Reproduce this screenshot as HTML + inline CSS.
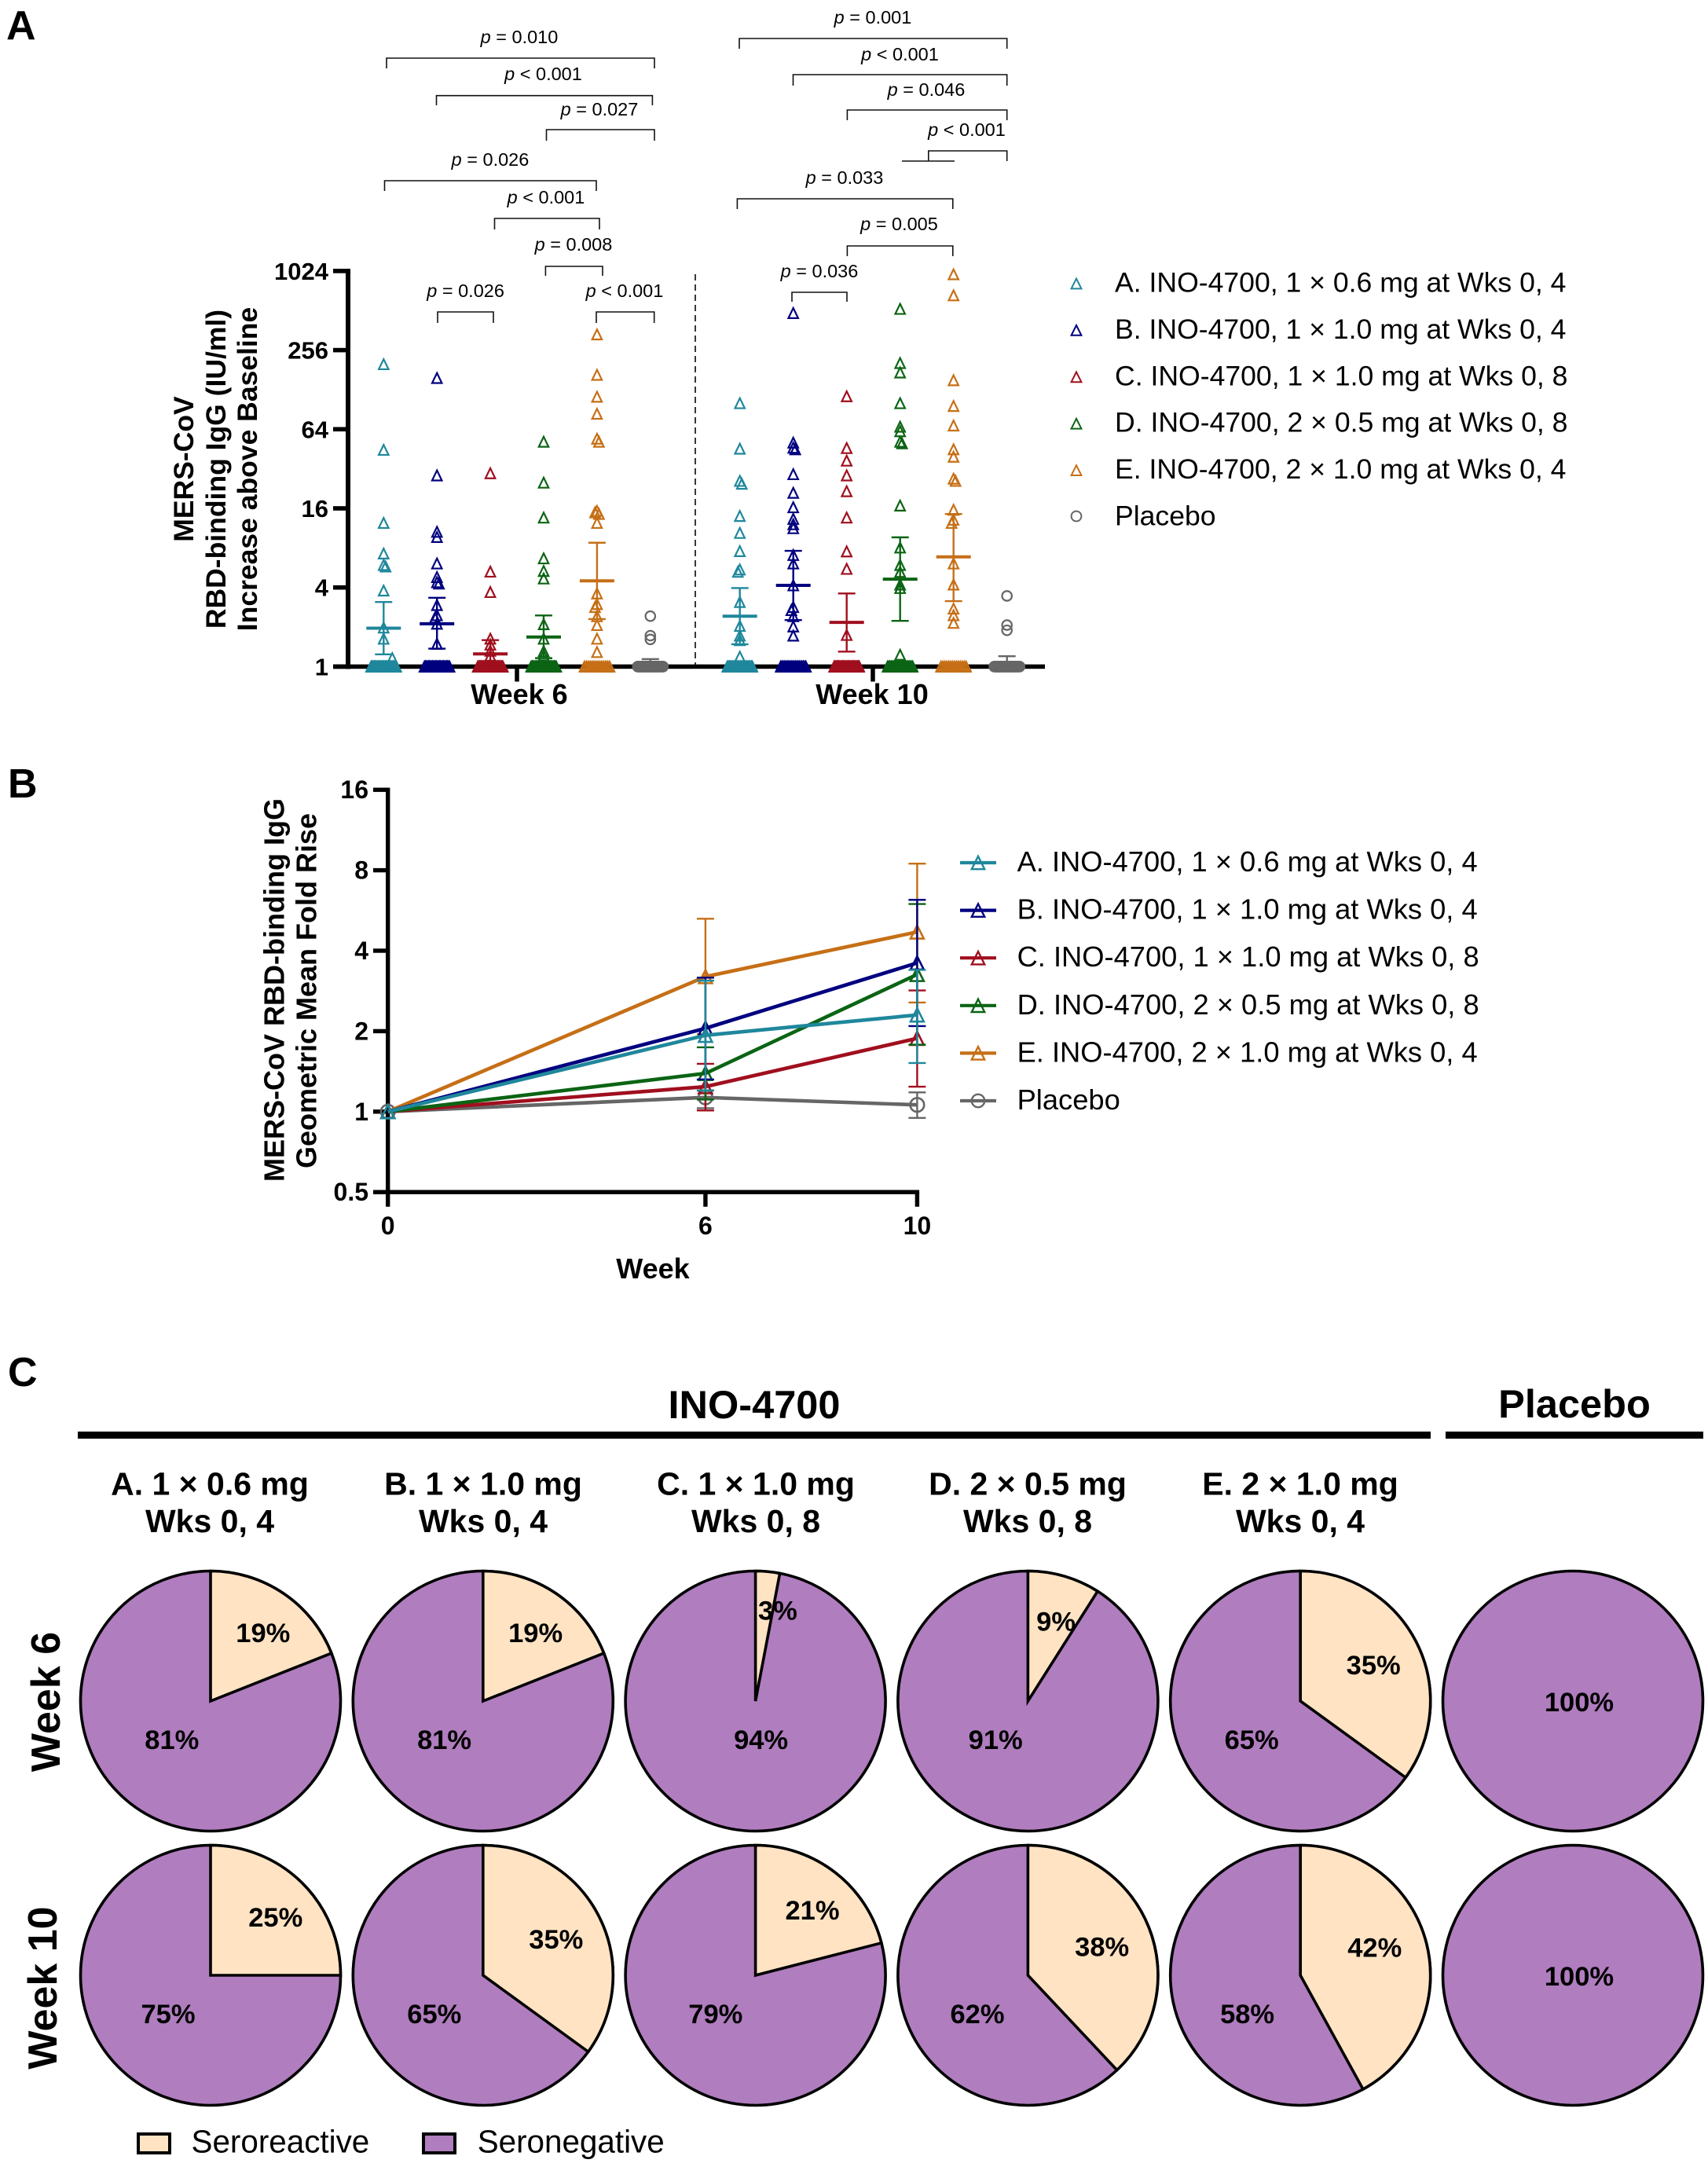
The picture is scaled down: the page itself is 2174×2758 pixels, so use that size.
<!DOCTYPE html>
<html lang="en">
<head>
<meta charset="utf-8">
<title>MERS-CoV RBD-binding IgG figure</title>
<style>
html,body{margin:0;padding:0;background:#fff}
svg{display:block}
text{font-family:"Liberation Sans",Arial,sans-serif;fill:#000}
.pv{font-size:23.5px;text-anchor:middle}
.pb path{fill:none;stroke:#111;stroke-width:1.6}
.b{font-weight:700}
.m{text-anchor:middle}
</style>
</head>
<body>
<svg id="fig" xmlns="http://www.w3.org/2000/svg" width="2174" height="2758" viewBox="0 0 2174 2758">
<rect width="2174" height="2758" fill="#fff"/>

<text class="b" x="8" y="50" font-size="52">A</text>
<text class="b" x="10" y="1015" font-size="52">B</text>
<text class="b" x="10" y="1764" font-size="52">C</text>

<!-- Panel A titles -->
<g>
<text class="b m" font-size="35.5" transform="translate(246 597) rotate(-90)">MERS-CoV</text>
<text class="b m" font-size="35.5" transform="translate(287 597) rotate(-90)">RBD-binding IgG (IU/ml)</text>
<text class="b m" font-size="35.5" transform="translate(327 597) rotate(-90)">Increase above Baseline</text>
</g>
<text class="b m" x="661" y="896" font-size="36">Week 6</text>
<text class="b m" x="1110" y="896" font-size="36">Week 10</text>
<path d="M885 349V848" stroke="#222" stroke-width="1.8" stroke-dasharray="8 5" fill="none"/>

<!-- Panel A p-value brackets -->
<g class="pb">
<g><path d="M492 87V74H833V87"/><text class="pv" x="661" y="55"><tspan font-style="italic">p</tspan> = 0.010</text></g>
<g><path d="M555.5 134V121.7H830.4V134"/><text class="pv" x="691.5" y="102"><tspan font-style="italic">p</tspan> &lt; 0.001</text></g>
<g><path d="M695.5 179V165H833V179"/><text class="pv" x="763" y="147"><tspan font-style="italic">p</tspan> = 0.027</text></g>
<g><path d="M489.5 243V230H759V243"/><text class="pv" x="624" y="211"><tspan font-style="italic">p</tspan> = 0.026</text></g>
<g><path d="M629.5 292V278H763V292"/><text class="pv" x="695" y="259"><tspan font-style="italic">p</tspan> &lt; 0.001</text></g>
<g><path d="M694.4 351V339H767V351"/><text class="pv" x="730" y="319"><tspan font-style="italic">p</tspan> = 0.008</text></g>
<g><path d="M557 411V397H628V411"/><text class="pv" x="592.6" y="378"><tspan font-style="italic">p</tspan> = 0.026</text></g>
<g><path d="M759 411V397H832.7V411"/><text class="pv" x="795" y="378"><tspan font-style="italic">p</tspan> &lt; 0.001</text></g>
<g><path d="M941 62V49H1281.7V62"/><text class="pv" x="1111" y="30"><tspan font-style="italic">p</tspan> = 0.001</text></g>
<g><path d="M1009.5 109V95H1281.7V109"/><text class="pv" x="1145.5" y="77"><tspan font-style="italic">p</tspan> &lt; 0.001</text></g>
<g><path d="M1078.4 153V140H1281.7V153"/><text class="pv" x="1179" y="122"><tspan font-style="italic">p</tspan> = 0.046</text></g>
<g><path d="M1181.8 205V192H1281.7V205M1148 205H1215"/><text class="pv" x="1230.5" y="173"><tspan font-style="italic">p</tspan> &lt; 0.001</text></g>
<g><path d="M938.4 266V253H1212.8V266"/><text class="pv" x="1075" y="234"><tspan font-style="italic">p</tspan> = 0.033</text></g>
<g><path d="M1078.4 326V313H1212.8V326"/><text class="pv" x="1144.5" y="293"><tspan font-style="italic">p</tspan> = 0.005</text></g>
<g><path d="M1008 384V372H1078V384"/><text class="pv" x="1043" y="353"><tspan font-style="italic">p</tspan> = 0.036</text></g>
</g>

<!-- Panel B titles -->
<text class="b m" font-size="36" transform="translate(361.6 1260) rotate(-90)">MERS-CoV RBD-binding IgG</text>
<text class="b m" font-size="36" transform="translate(402.7 1261) rotate(-90)">Geometric Mean Fold Rise</text>
<text class="b m" x="831" y="1627" font-size="36">Week</text>

<!-- Panel C headers -->
<text class="b m" x="960" y="1805" font-size="50.5">INO-4700</text>
<text class="b m" x="2004" y="1804" font-size="50.5">Placebo</text>
<rect x="99" y="1822" width="1722" height="9" fill="#000"/>
<rect x="1840" y="1822" width="328" height="9" fill="#000"/>
<g>
<text class="b m" font-size="41" x="267" y="1902.5">A. 1 × 0.6 mg</text>
<text class="b m" font-size="41" x="267" y="1950">Wks 0, 4</text>
<text class="b m" font-size="41" x="615" y="1902.5">B. 1 × 1.0 mg</text>
<text class="b m" font-size="41" x="615" y="1950">Wks 0, 4</text>
<text class="b m" font-size="41" x="962" y="1902.5">C. 1 × 1.0 mg</text>
<text class="b m" font-size="41" x="962" y="1950">Wks 0, 8</text>
<text class="b m" font-size="41" x="1308" y="1902.5">D. 2 × 0.5 mg</text>
<text class="b m" font-size="41" x="1308" y="1950">Wks 0, 8</text>
<text class="b m" font-size="41" x="1655" y="1902.5">E. 2 × 1.0 mg</text>
<text class="b m" font-size="41" x="1655" y="1950">Wks 0, 4</text>
</g>
<text class="b m" font-size="52" transform="translate(76 2166) rotate(-90)">Week 6</text>
<text class="b m" font-size="52" transform="translate(72 2530) rotate(-90)">Week 10</text>

<!-- Panel C legend -->
<rect x="176" y="2716" width="40" height="24" fill="#FFE3C3" stroke="#000" stroke-width="4"/>
<text x="243.5" y="2739.3" font-size="40.4">Seroreactive</text>
<rect x="539" y="2716" width="40" height="24" fill="#B07DBF" stroke="#000" stroke-width="4"/>
<text x="607.7" y="2739.3" font-size="40.4">Seronegative</text>
</svg>

<script>
// ---- shared series ----
const seriesLabels = ['A. INO-4700, 1 × 0.6 mg at Wks 0, 4','B. INO-4700, 1 × 1.0 mg at Wks 0, 4','C. INO-4700, 1 × 1.0 mg at Wks 0, 8','D. INO-4700, 2 × 0.5 mg at Wks 0, 8','E. INO-4700, 2 × 1.0 mg at Wks 0, 4','Placebo'];
const seriesKeys = ['a','b','c','d','e','placebo'];
const seriesColors = ['#1F879C','#00007F','#A00F1E','#0B6414','#C66F16','#666666'];

// ---- Panel A: fold increase above baseline, points above 1 ----
const week6A = [200,44.6,12.4,7.25,5.93,5.78,3.79,1.98,1.63,1.16];
const week6B = [157,28.5,10.6,9.68,6.09,4.8,4.39,4.28,2.94,2.46,2.36,2.12,1.49];
const week6C = [29.6,5.28,3.69,1.63,1.47,1.32,1.21];
const week6D = [51.4,25.1,13.6,6.66,5.34,4.68,2.1,1.63,1.31,1.22];
const week6E = [337,166,113,83.9,54.2,51.4,15.3,14.9,14.5,12.4,3.6,2.99,2.84,2.42,2.07,1.63,1.29];
const week6Placebo = [2.42,1.72,1.61];
const week10A = [101,45.5,25.9,24.6,14,10.4,7.56,5.48,5.26,3.1,2.04,1.72,1.59,1.19];
const week10B = [490,50.6,46.3,45,29.1,21,16.3,13.3,12.1,11.3,7.06,6.09,4.15,2.84,2.69,2.42,2.02,1.72];
const week10C = [114,46,36.9,28.5,21.6,13.6,7.52,5.54,1.74];
const week10D = [527,204,173,101,66.9,61.8,51.4,50,16.8,8.05,5.93,5.26,4.21,3.96,1.23];
const week10E = [966,668,151,96.2,68.3,45,39.5,26.9,25.9,15.6,13.1,12.4,6.09,4.21,2.76,2.46,2.15];
const week10Placebo = [3.45,2.07,1.89];
// number of participants sitting on the baseline value of 1
const week6BaselineCounts = [26,26,30,26,14,30];
const week10BaselineCounts = [24,20,28,22,14,30];
const week6Means = [1.96,2.12,1.25,1.68,4.49,1.03];
const week6Uppers = [3.10,3.34,1.59,2.45,8.76,1.14];
const week6Lowers = [1.24,1.37,1.0,1.16,2.3,1.0];
const week10Means = [2.42,4.15,2.17,4.63,6.84,1.03];
const week10Uppers = [3.96,7.6,3.6,9.63,14.5,1.2];
const week10Lowers = [1.48,2.26,1.3,2.23,3.15,1.0];
const yTicksA = [1,4,16,64,256,1024];

// ---- Panel B: geometric mean fold rise ----
const weeksB = [0,6,10];
const xTicksB = [0,6,10];
const yTicksB = [0.5,1,2,4,8,16];
const gmfrA = [1,1.93,2.3];
const gmfrB = [1,2.05,3.6];
const gmfrC = [1,1.24,1.88];
const gmfrD = [1,1.39,3.26];
const gmfrE = [1,3.2,4.7];
const gmfrPlacebo = [1,1.13,1.06];
const upperA = [1,3.09,3.39];
const upperB = [1,3.17,6.2];
const upperC = [1,1.51,2.84];
const upperD = [1,1.74,5.98];
const upperE = [1,5.27,8.47];
const upperPlacebo = [1,1.2,1.18];
const lowerA = [1,1.2,1.52];
const lowerB = [1,1.32,2.09];
const lowerC = [1,1.01,1.24];
const lowerD = [1,1.11,1.78];
const lowerE = [1,1.95,2.56];
const lowerPlacebo = [1,1.03,0.947];

// ---- Panel C: percent seroreactive / seronegative per group ----
const week6Seroreactive = [19,19,3,9,35,0];
const week6Seronegative = [81,81,94,91,65,100];
const week10Seroreactive = [25,35,21,38,42,0];
const week10Seronegative = [75,65,79,62,58,100];

// ---- helpers ----
const NS = 'http://www.w3.org/2000/svg';
const fig = document.getElementById('fig');
function mk(parent, tag, attrs, txt){
  const el = document.createElementNS(NS, tag);
  for (const k in attrs) el.setAttribute(k, attrs[k]);
  if (txt !== undefined) el.textContent = txt;
  parent.appendChild(el);
  return el;
}
function triPath(cx, cy, hw, hh){
  return 'M'+cx+' '+(cy-hh)+'L'+(cx+hw)+' '+(cy+hh)+'L'+(cx-hw)+' '+(cy+hh)+'Z';
}
function yA(v){ return 848.4 - Math.log2(v)*50.35; }
function xA(weekIdx, g){ return (weekIdx === 0 ? 488.3 : 941.7) + g*(weekIdx === 0 ? 67.9 : 68); }
function yB(v){ return 1414.8 - Math.log2(v)*102.4; }
function xB(w){ return 493.7 + w*67.37; }

// ---- Panel A axes ----
const axesA = mk(fig,'g',{fill:'#000'});


const yAxisA = mk(axesA,'rect',{x:440,y:342,width:6,height:509.4});


const xAxisA = mk(axesA,'rect',{x:424,y:845.6,width:906,height:5.6});


[658,1111].forEach(function(x){
  const t = mk(axesA,'rect',{x:x-2.75,y:848,width:5.5,height:19.5});
  
  
});
yTicksA.forEach(function(v){
  const t = mk(axesA,'rect',{x:424,y:yA(v)-2.8,width:20,height:5.6});
  
  
  const l = mk(axesA,'text',{x:418,y:yA(v)+11,'font-size':31,'font-weight':700,'text-anchor':'end'},String(v));
  
  
});

// ---- Panel A groups ----
function drawGroup(weekIdx, g, values, baseCount, mean, upper, lower){
  const color = seriesColors[g];
  const cx = xA(weekIdx, g);
  const isPlacebo = g === 5;
  const grp = mk(fig,'g',{fill:'none',stroke:color,'stroke-width':2.2});
  
  
  for (let i=0;i<baseCount;i++){
    const bx = cx - 16 + 32*i/(baseCount-1);
    const base = isPlacebo
      ? mk(grp,'circle',{cx:bx,cy:yA(1),r:6.3})
      : mk(grp,'path',{d:triPath(bx,yA(1),6.2,6.4)});
    
    
  }
  let prevY = -99, side = 1;
  values.slice().sort(function(a,b){return b-a;}).forEach(function(v){
    const y = yA(v);
    let dx = 0;
    if (Math.abs(y-prevY) < 4){ dx = 2.5*side; side = -side; }
    if (v < 1.18) dx = 11;
    prevY = y;
    const pt = isPlacebo
      ? mk(grp,'circle',{cx:cx+dx,cy:y,r:6.2})
      : mk(grp,'path',{d:triPath(cx+dx,y,6.2,6.4)});
    
    
  });
  const stem = mk(grp,'path',{d:'M'+cx+' '+yA(upper)+'V'+yA(lower),'stroke-width':2.4});
  
  
  const capU = mk(grp,'path',{d:'M'+(cx-11)+' '+yA(upper)+'h22','stroke-width':2.4});
  
  
  if (lower > 1){
    const capL = mk(grp,'path',{d:'M'+(cx-11)+' '+yA(lower)+'h22','stroke-width':2.4});
    
    
  }
  const meanLine = mk(grp,'path',{d:'M'+(cx-22)+' '+yA(mean)+'h44','stroke-width':4});
  
  
}
[week6A,week6B,week6C,week6D,week6E,week6Placebo].forEach(function(vals,g){
  drawGroup(0,g,vals,week6BaselineCounts[g],week6Means[g],week6Uppers[g],week6Lowers[g]);
});
[week10A,week10B,week10C,week10D,week10E,week10Placebo].forEach(function(vals,g){
  drawGroup(1,g,vals,week10BaselineCounts[g],week10Means[g],week10Uppers[g],week10Lowers[g]);
});

// ---- Panel A legend ----
seriesLabels.forEach(function(label,g){
  const y = 361 + g*59.4;
  const row = mk(fig,'g',{});
  
  
  const mark = g === 5
    ? mk(row,'circle',{cx:1370,cy:y-1,r:6.4,fill:'none',stroke:seriesColors[g],'stroke-width':2})
    : mk(row,'path',{d:triPath(1370,y,6.4,6.4),fill:'none',stroke:seriesColors[g],'stroke-width':2});
  
  
  const t = mk(row,'text',{x:1419,y:y+10.5,'font-size':35.6},label);
  
  
});

// ---- Panel B axes ----
const axesB = mk(fig,'g',{fill:'#000'});


const yAxisB = mk(axesB,'rect',{x:491,y:yB(16)-2.7,width:5.4,height:yB(0.5)-yB(16)+5.4});


const xAxisB = mk(axesB,'rect',{x:475,y:yB(0.5)-2.7,width:xB(10)-475+2.7,height:5.4});


yTicksB.forEach(function(v){
  const t = mk(axesB,'rect',{x:475,y:yB(v)-2.7,width:20,height:5.4});
  
  
  const l = mk(axesB,'text',{x:469,y:yB(v)+11,'font-size':32,'font-weight':700,'text-anchor':'end'},String(v));
  
  
});
xTicksB.forEach(function(w){
  const t = mk(axesB,'rect',{x:xB(w)-2.7,y:yB(0.5),width:5.4,height:18.6});
  
  
  const l = mk(axesB,'text',{x:xB(w),y:1571,'font-size':32,'font-weight':700,'text-anchor':'middle'},String(w));
  
  
});

// ---- Panel B series ----
const lineSeries = [
  [5,gmfrPlacebo,upperPlacebo,lowerPlacebo],
  [2,gmfrC,upperC,lowerC],
  [3,gmfrD,upperD,lowerD],
  [4,gmfrE,upperE,lowerE],
  [1,gmfrB,upperB,lowerB],
  [0,gmfrA,upperA,lowerA]
];
lineSeries.forEach(function(s){
  const g = s[0], vals = s[1], ups = s[2], lows = s[3], color = seriesColors[g];
  const grp = mk(fig,'g',{fill:'none',stroke:color,'stroke-width':2});
  
  
  const d = vals.map(function(v,i){ return (i?'L':'M')+xB(weeksB[i])+' '+yB(v); }).join('');
  const line = mk(grp,'path',{d:d,'stroke-width':4.6,'stroke-linejoin':'round'});
  
  
  vals.forEach(function(v,i){
    const x = xB(weeksB[i]);
    if (i > 0){
      const err = mk(grp,'path',{d:'M'+x+' '+yB(ups[i])+'V'+yB(lows[i])+'M'+(x-11)+' '+yB(ups[i])+'h22M'+(x-11)+' '+yB(lows[i])+'h22','stroke-width':2.4});
      
      
    }
    const mark = g === 5
      ? mk(grp,'circle',{cx:x,cy:yB(v),r:8.8,'stroke-width':2.6})
      : mk(grp,'path',{d:triPath(x,yB(v),8.4,8.4),'stroke-width':2.6});
    
    
  });
});

// ---- Panel B legend ----
seriesLabels.forEach(function(label,g){
  const y = 1098 + g*60.6;
  const color = seriesColors[g];
  const row = mk(fig,'g',{fill:'none',stroke:color});
  
  
  const ln = mk(row,'path',{d:'M1222 '+y+'h46','stroke-width':4.2});
  
  
  const mark = g === 5
    ? mk(row,'circle',{cx:1245,cy:y,r:8.2,'stroke-width':2.4})
    : mk(row,'path',{d:triPath(1245,y,8.2,8.2),'stroke-width':2.4});
  
  
  const t = mk(row,'text',{x:1294.6,y:y+11,'font-size':36.3,stroke:'none'},label);
  
  
});

// ---- Panel C pies ----
function pieX(col){ return 268 + col*346.8; }
function pieY(row){ return row === 0 ? 2165 : 2514; }
const PIE_R = 165.5;
function drawPie(row, col, pct, negPct){
  const cx = pieX(col), cy = pieY(row);
  const grp = mk(fig,'g',{});
  
  
  const neg = mk(grp,'circle',{cx:cx,cy:cy,r:PIE_R,fill:'#B07DBF',stroke:'#000','stroke-width':3.6});
  
  
  const ang = pct/100*2*Math.PI;
  if (pct > 0){
    const ex = cx + PIE_R*Math.sin(ang), ey = cy - PIE_R*Math.cos(ang);
    const large = pct > 50 ? 1 : 0;
    const d = 'M'+cx+' '+cy+'V'+(cy-PIE_R)+'A'+PIE_R+' '+PIE_R+' 0 '+large+' 1 '+ex+' '+ey+'Z';
    const pos = mk(grp,'path',{d:d,fill:'#FFE3C3',stroke:'#000','stroke-width':3.6,'stroke-linejoin':'miter'});
    
    
    const mid = ang/2;
    const small = pct < 5;
    const r = small ? 120 : 110;
    const lx = cx + r*Math.sin(mid) + (small ? 17 : 5) - Math.max(0,pct-25);
    const ly = cy - r*Math.cos(mid) + 4 - Math.max(0,pct-38)*3;
    const lab = mk(grp,'text',{x:lx,y:ly+12,'font-size':34.5,'font-weight':700,'text-anchor':'middle'},pct+'%');
    
    
    const nx = negPct > 92 ? cx + 7 : cx - 66 + (negPct-60)*0.8;
    const nl = mk(grp,'text',{x:nx,y:cy+49+12,'font-size':34.5,'font-weight':700,'text-anchor':'middle'},negPct+'%');
    
    
  } else {
    const nl = mk(grp,'text',{x:cx+8,y:cy+13,'font-size':34.5,'font-weight':700,'text-anchor':'middle'},negPct+'%');
    
    
  }
}
week6Seroreactive.forEach(function(p,c){ drawPie(0,c,p,week6Seronegative[c]); });
week10Seroreactive.forEach(function(p,c){ drawPie(1,c,p,week10Seronegative[c]); });
</script>
</body>
</html>
